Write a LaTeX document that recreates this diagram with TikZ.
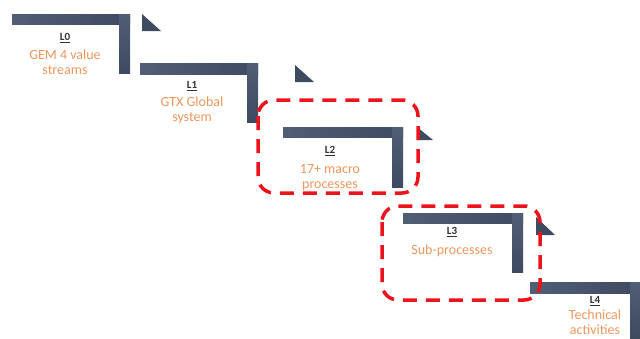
\documentclass[tikz,border=0pt]{standalone}
\usepackage{fontspec}
\setmainfont{Carlito}
\usepackage{tikz}

\definecolor{barblue}{RGB}{80,94,118}
\definecolor{bardark}{RGB}{62,74,96}
\definecolor{steporange}{RGB}{236,150,92}
\definecolor{labelgray}{RGB}{50,50,50}
\definecolor{boxred}{RGB}{236,20,28}

\tikzset{
  bar/.style={left color=barblue, right color=bardark, draw=none},
  vbar/.style={top color=barblue, bottom color=bardark, draw=none},
  flag/.style={fill=bardark, draw=none},
  levelname/.style={font=\fontsize{11}{11}\selectfont\bfseries, text=labelgray},
  steptext/.style={font=\fontsize{14}{15}\selectfont, text=steporange, align=center},
  zoombox/.style={draw=boxred, line width=3.5pt, dash pattern=on 14pt off 9pt, rounded corners=16pt}
}

\begin{document}
\begin{tikzpicture}[x=1pt,y=-1pt]
\useasboundingbox (0,0) rectangle (640,338);
% level 0
\fill[bar] (12,14) rectangle (130,24);
\fill[vbar] (119,14) rectangle (130,73);
\fill[flag] (142,14) -- (142,31) -- (161,31) -- cycle;
\node[levelname] (l0) at (65,38) {\underline{L0}};
\node[steptext] (t0) at (65,62) {GEM 4 value\\streams};
% level 1
\fill[bar] (140,63) rectangle (258,74);
\fill[vbar] (247,63) rectangle (258,122);
\fill[flag] (295,65) -- (295,82) -- (314,82) -- cycle;
\node[levelname] (l1) at (192,86) {\underline{L1}};
\node[steptext] (t1) at (192,110) {GTX Global\\system};
% level 2
\fill[bar] (283,127) rectangle (403,137);
\fill[vbar] (392,127) rectangle (403,187);
\fill[flag] (417,127) -- (417,140) -- (433,140) -- cycle;
\node[levelname] (l2) at (330,151) {\underline{L2}};
\node[steptext] (t2) at (330,178) {17+ macro\\processes};
% level 3
\fill[bar] (403,213) rectangle (523,223);
\fill[vbar] (512,213) rectangle (523,272);
\fill[flag] (536,217) -- (536,235) -- (555,235) -- cycle;
\node[levelname] (l3) at (452,232) {\underline{L3}};
\node[steptext] (t3) at (452,251) {Sub-processes};
% level 4
\fill[bar] (530,282) rectangle (640,293);
\fill[vbar] (630,282) rectangle (640,338);
\node[levelname] (l4) at (595,301) {\underline{L4}};
\node[steptext] (t4) at (595,322) {Technical\\activities};
% highlighted levels
\draw[zoombox] (258,100) rectangle (418,193);
\draw[zoombox] (382,206) rectangle (540,300);
\end{tikzpicture}
\end{document}
